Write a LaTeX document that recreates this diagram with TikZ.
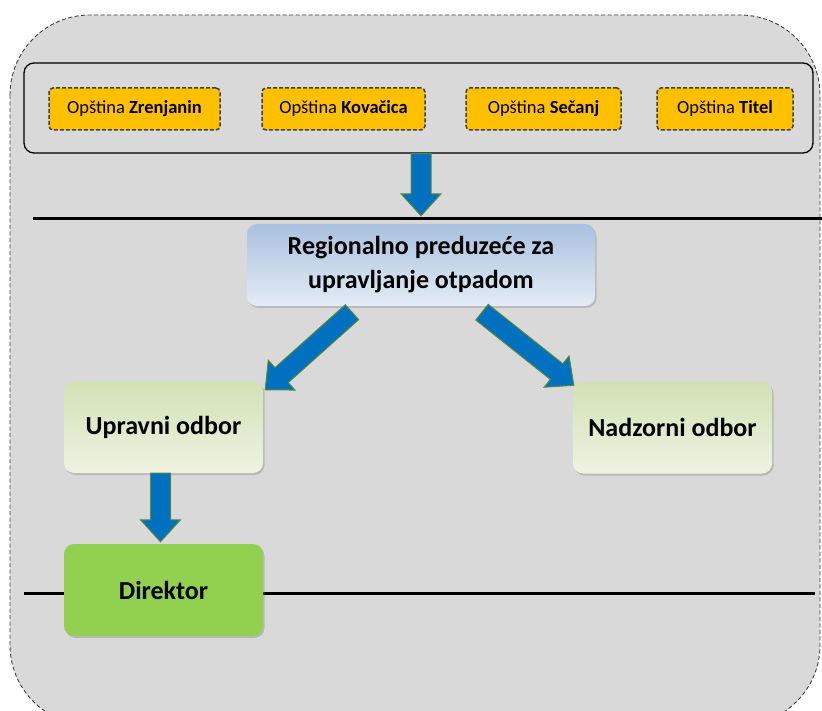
\documentclass[tikz,border=0pt]{standalone}
\usepackage{fontspec}
\setmainfont{Carlito}
\usetikzlibrary{calc,shadows}

\definecolor{panelgray}{HTML}{D9D9D9}
\definecolor{dashgray}{HTML}{404040}
\definecolor{munic}{HTML}{FFC000}
\definecolor{arrowblue}{HTML}{0070C0}
\definecolor{arrowedge}{HTML}{5B8A32}
\definecolor{dirgreen}{HTML}{92D050}
\definecolor{bluetop}{HTML}{A9C1DF}
\definecolor{bluebot}{HTML}{E4ECF6}
\definecolor{greentop}{HTML}{D2E1B4}
\definecolor{greenbot}{HTML}{EEF3E2}

% block arrow from #1 to #2 (shaft half width, head half width, head length)
\newcommand\blockarrow[2]{%
  \coordinate (hb) at ($(#2)!22pt!(#1)$);
  \path[blockshape]
    ($(#1)!10pt!90:(#2)$) -- ($(hb)!10pt!90:(#2)$) -- ($(hb)!20pt!90:(#2)$)
    -- (#2) -- ($(hb)!20pt!-90:(#2)$) -- ($(hb)!10pt!-90:(#2)$)
    -- ($(#1)!10pt!-90:(#2)$) -- cycle;
}

\tikzset{
  blockshape/.style={fill=arrowblue, draw=arrowedge, line width=1pt, line join=miter},
  munibox/.style={draw=dashgray, fill=munic, line width=1.5pt,
    dash pattern=on 4pt off 2pt, rounded corners=4pt, minimum height=42pt,
    inner sep=0pt, font=\fontsize{18.5}{22}\selectfont},
  orgbox/.style={rounded corners=10pt, inner sep=0pt, align=center,
    font=\bfseries\fontsize{26}{34}\selectfont,
    drop shadow={opacity=0.35, shadow xshift=1.5pt, shadow yshift=-2pt}},
  greenbox/.style={orgbox, top color=greentop, bottom color=greenbot,
    minimum width=199pt, minimum height=92pt},
  divider/.style={line width=3pt, black},
}

\begin{document}
\begin{tikzpicture}[x=1pt, y=-1pt]
  \useasboundingbox (0,0) rectangle (822,711);
  \clip (0,0) rectangle (822,711);

  % outer dashed frame
  \draw[fill=panelgray, draw=dashgray, line width=0.9pt,
        dash pattern=on 4pt off 2.5pt, rounded corners=80pt]
    (10,15) rectangle (820,725);

  % municipalities panel
  \node[draw=black, line width=1.3pt, rounded corners=10pt,
        minimum width=789pt, minimum height=90pt, inner sep=0pt] (top) at (418.5,108) {};
  \node[munibox, minimum width=171pt] (zr) at (134.5,109) {Opština \textbf{Zrenjanin}};
  \node[munibox, minimum width=163pt] (ko) at (343.5,109) {Opština \textbf{Kovačica}};
  \node[munibox, minimum width=155pt] (se) at (543.5,109) {Opština \textbf{Sečanj}};
  \node[munibox, minimum width=136pt] (ti) at (725,109) {Opština \textbf{Titel}};

  % dividing lines
  \draw[divider] (33,219) -- (822,219);
  \draw[divider] (24,593) -- (815,593);

  % organisation boxes
  \node[orgbox, top color=bluetop, bottom color=bluebot,
        minimum width=348pt, minimum height=82pt] (reg) at (421,265)
        {Regionalno preduzeće za\\upravljanje otpadom};
  \node[greenbox] (upr) at (163.5,427) {Upravni odbor};
  \node[greenbox] (nad) at (672.5,427.5) {Nadzorni odbor};
  \node[orgbox, fill=dirgreen, minimum width=199pt, minimum height=92pt]
        (dir) at (163.5,590) {Direktor};

  % arrow end points
  \coordinate (a1s) at (top.south -| reg.north);
  \coordinate (a1t) at ([yshift=8pt]reg.north);
  \coordinate (a2s) at ($(reg.south)+(-69,6)$);
  \coordinate (a2t) at ($(upr.north east)+(2,9)$);
  \coordinate (a3s) at ($(reg.south)+(61,6)$);
  \coordinate (a3t) at ($(nad.north west)+(1,4)$);
  \coordinate (a4s) at ([xshift=-3pt]upr.south);
  \coordinate (a4t) at ([xshift=-3pt,yshift=2pt]dir.north);

  \blockarrow{a1s}{a1t}
  \blockarrow{a2s}{a2t}
  \blockarrow{a3s}{a3t}
  \blockarrow{a4s}{a4t}
\end{tikzpicture}
\end{document}
